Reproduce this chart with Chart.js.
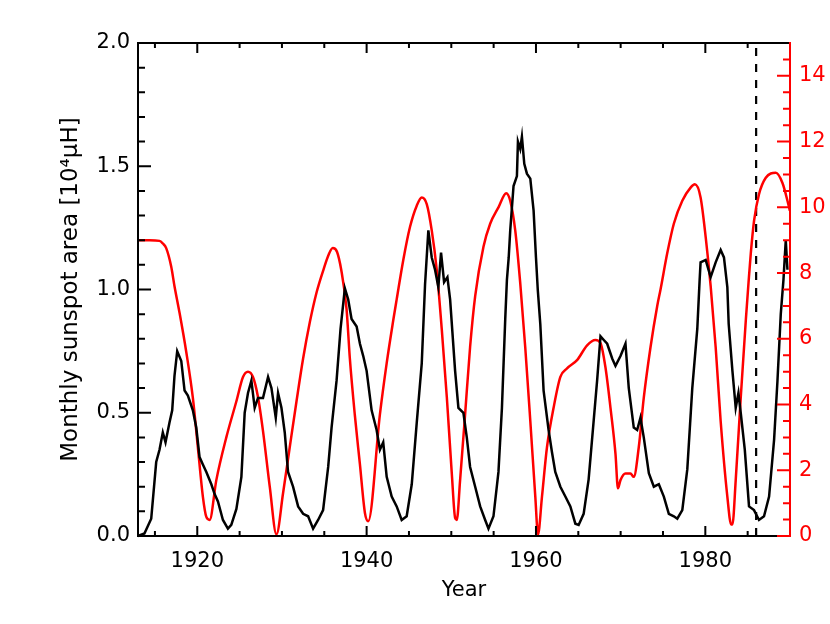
<!DOCTYPE html>
<html><head><meta charset="utf-8">
<script src="https://cdn.jsdelivr.net/npm/chart.js@4.4.1/dist/chart.umd.min.js"></script>
<style>html,body{margin:0;padding:0;background:#fff;} #wrap{width:830px;height:624px;}</style>
</head><body><div id="wrap"><canvas id="c" width="830" height="624"></canvas></div>
<script>
// ---- data ----
const areaYears = [1913.0,1913.76,1914.56,1915.15,1915.54,1915.93,1916.25,1916.72,1917.04,1917.31,1917.63,1918.11,1918.5,1918.89,1919.48,1919.88,1920.27,1920.66,1921.07,1921.66,1922.05,1922.44,1923.03,1923.62,1924.02,1924.62,1925.21,1925.6,1925.99,1926.39,1926.78,1927.17,1927.76,1928.36,1928.76,1929.27,1929.54,1929.94,1930.33,1930.72,1931.31,1931.91,1932.5,1933.09,1933.68,1934.27,1934.86,1935.46,1935.86,1936.45,1936.92,1937.43,1937.82,1938.22,1938.82,1939.21,1939.6,1940.0,1940.59,1941.18,1941.57,1941.96,1942.37,1942.96,1943.55,1944.14,1944.73,1945.33,1945.92,1946.51,1946.9,1947.29,1947.69,1948.08,1948.47,1948.79,1949.15,1949.54,1949.86,1950.45,1950.84,1951.43,1951.83,1952.22,1952.82,1953.41,1954.0,1954.39,1954.98,1955.57,1955.98,1956.37,1956.57,1956.78,1956.96,1957.35,1957.75,1957.87,1958.14,1958.34,1958.62,1958.93,1959.33,1959.72,1960.0,1960.21,1960.51,1960.9,1961.49,1961.89,1962.28,1962.88,1963.47,1964.06,1964.65,1965.04,1965.63,1966.22,1966.82,1967.22,1967.62,1968.01,1968.41,1969.0,1969.39,1969.98,1970.57,1970.96,1971.55,1971.95,1972.34,1972.73,1973.33,1973.92,1974.51,1975.1,1975.69,1976.28,1976.69,1977.28,1977.87,1978.46,1979.05,1979.33,1979.44,1980.04,1980.63,1981.22,1981.81,1982.2,1982.6,1982.76,1983.2,1983.59,1983.91,1984.18,1984.66,1985.16,1985.75,1986.34,1986.93,1987.53,1988.12,1988.52,1988.91,1989.23,1989.5,1989.7];
const areaValues = [0.0,0.01,0.07,0.30,0.35,0.42,0.38,0.46,0.51,0.65,0.75,0.71,0.59,0.57,0.51,0.44,0.32,0.29,0.26,0.21,0.17,0.14,0.065,0.03,0.045,0.11,0.24,0.50,0.58,0.63,0.52,0.56,0.56,0.645,0.60,0.48,0.58,0.52,0.42,0.26,0.20,0.12,0.09,0.08,0.03,0.065,0.105,0.28,0.44,0.63,0.84,1.005,0.96,0.88,0.85,0.78,0.73,0.67,0.51,0.43,0.35,0.38,0.24,0.16,0.12,0.065,0.08,0.21,0.46,0.70,1.02,1.24,1.13,1.08,1.01,1.15,1.03,1.05,0.96,0.67,0.52,0.50,0.40,0.28,0.20,0.12,0.065,0.03,0.08,0.26,0.52,0.88,1.04,1.13,1.24,1.42,1.46,1.60,1.57,1.62,1.51,1.47,1.45,1.32,1.13,1.0,0.86,0.59,0.43,0.34,0.26,0.20,0.16,0.12,0.05,0.045,0.09,0.23,0.47,0.63,0.81,0.795,0.78,0.72,0.69,0.73,0.78,0.60,0.44,0.43,0.48,0.40,0.255,0.20,0.21,0.16,0.09,0.08,0.07,0.105,0.27,0.60,0.84,1.04,1.11,1.12,1.05,1.11,1.16,1.13,1.01,0.86,0.67,0.52,0.58,0.50,0.35,0.12,0.105,0.065,0.08,0.16,0.39,0.63,0.90,1.04,1.20,1.08];

const fluxYears = [1913.0,1914.35,1915.54,1915.93,1916.33,1916.92,1917.31,1917.9,1918.7,1919.48,1920.07,1920.66,1921.07,1921.46,1922.25,1923.43,1924.62,1925.4,1925.99,1926.58,1927.17,1927.76,1928.56,1929.35,1930.13,1930.92,1931.72,1932.5,1933.29,1934.08,1934.9,1935.5,1936.0,1936.5,1937.0,1937.63,1938.02,1938.6,1939.2,1939.8,1940.19,1941.57,1942.37,1943.15,1943.55,1944.33,1945.12,1945.92,1946.51,1947.1,1947.69,1948.28,1948.88,1949.47,1950.06,1950.45,1950.65,1951.04,1951.63,1952.22,1952.82,1953.8,1954.59,1955.57,1956.49,1956.96,1957.55,1958.14,1958.73,1959.33,1959.92,1960.24,1960.71,1961.3,1962.08,1962.88,1963.67,1964.85,1966.04,1967.02,1967.62,1968.2,1968.8,1969.39,1969.68,1969.98,1970.57,1971.16,1971.55,1972.14,1972.73,1973.53,1974.32,1974.71,1975.5,1976.28,1977.28,1978.26,1978.77,1979.44,1980.04,1980.63,1981.22,1981.81,1982.6,1983.05,1983.2,1983.59,1984.18,1984.79,1985.1,1985.37,1985.76,1986.34,1987.14,1988.32,1989.11,1989.7,1989.98];
const fluxValues = [9.0,9.0,8.98,8.9,8.76,8.2,7.6,6.8,5.6,4.2,2.7,1.2,0.58,0.49,1.7,3.0,4.1,4.84,5.0,4.84,4.23,3.2,1.5,0.05,1.3,2.7,4.1,5.4,6.5,7.4,8.1,8.55,8.76,8.65,8.1,6.9,5.4,3.7,2.2,0.7,0.45,3.7,5.26,6.57,7.2,8.4,9.4,10.05,10.3,10.1,9.3,8.1,6.27,4.23,1.9,0.55,0.49,1.7,3.7,5.75,7.3,8.8,9.5,10.0,10.43,10.2,9.3,7.7,5.75,3.5,1.2,0.05,1.2,2.7,3.9,4.84,5.1,5.35,5.8,5.96,5.87,5.14,3.9,2.5,1.45,1.7,1.9,1.9,1.8,2.7,4.2,5.75,7.0,7.5,8.6,9.5,10.2,10.6,10.7,10.3,9.1,7.6,5.75,3.5,1.2,0.35,0.35,1.7,4.2,6.6,7.7,8.6,9.6,10.4,10.9,11.05,10.74,10.2,9.9];

const markerYear = 1986;
const xRange = [1913, 1990];
const leftRange = [0, 2];
const rightRange = [0, 15];
const xLabelTicks = [1920, 1940, 1960, 1980];
const xMinorStep = 5;
const leftLabelTicks = [0, 0.5, 1.0, 1.5, 2.0];
const leftMinorStep = 0.1;
const rightLabelTicks = [0, 2, 4, 6, 8, 10, 12, 14];
const rightMinorStep = 0.5;

const FONT = "'DejaVu Sans', sans-serif";
const RED = '#ff0000';

function pts(xs, ys){ return xs.map((t,i)=>({x:t, y:ys[i]})); }
function steps(lo, hi, st){ const out=[]; const n=Math.round((hi-lo)/st); for(let i=0;i<=n;i++) out.push(+(lo+i*st).toFixed(6)); return out; }

const framePlugin = {
  id: 'frame',
  afterDraw(chart){
    const {ctx, chartArea:a, scales} = chart;
    const x = scales.x, y = scales.y, y2 = scales.y2;
    ctx.save();
    ctx.lineWidth = 2;
    ctx.lineCap = 'butt';
    ctx.strokeStyle = '#000';
    ctx.beginPath();
    ctx.moveTo(a.left, a.bottom + 1); ctx.lineTo(a.left, a.top); ctx.lineTo(a.right, a.top);
    ctx.moveTo(a.left - 1, a.bottom); ctx.lineTo(a.right - 13, a.bottom);
    const xMinor = steps(Math.ceil(xRange[0]/xMinorStep)*xMinorStep, xRange[1], xMinorStep);
    xMinor.forEach(v => {
      const px = x.getPixelForValue(v);
      if (px <= a.left + 1 || px >= a.right - 1) return;
      const len = xLabelTicks.includes(v) ? 10 : 5;
      ctx.moveTo(px, a.bottom); ctx.lineTo(px, a.bottom - len);
      ctx.moveTo(px, a.top); ctx.lineTo(px, a.top + len);
    });
    steps(leftRange[0], leftRange[1], leftMinorStep).forEach(v => {
      const py = y.getPixelForValue(v);
      if (py >= a.bottom - 1 || py <= a.top + 1) return;
      const major = leftLabelTicks.some(t => Math.abs(t - v) < 1e-6);
      ctx.moveTo(a.left, py); ctx.lineTo(a.left + (major ? 13 : 7), py);
    });
    ctx.stroke();
    ctx.strokeStyle = RED;
    ctx.beginPath();
    ctx.moveTo(a.right, a.top - 1); ctx.lineTo(a.right, a.bottom + 1);
    ctx.moveTo(a.right - 13, a.bottom); ctx.lineTo(a.right, a.bottom);
    steps(rightRange[0], rightRange[1], rightMinorStep).forEach(v => {
      const py = y2.getPixelForValue(v);
      if (py <= a.top + 1) return;
      const major = rightLabelTicks.includes(v);
      ctx.moveTo(a.right, py); ctx.lineTo(a.right - (major ? 13 : 7), py);
    });
    ctx.stroke();
    ctx.restore();
  }
};

new Chart(document.getElementById('c'), {
  type: 'line',
  data: {
    datasets: [
      { label: 'Monthly sunspot area', data: pts(areaYears, areaValues), yAxisID: 'y',
        borderColor: '#000', borderWidth: 2.5, pointRadius: 0, tension: 0, fill: false, clip: 4 },
      { label: 'Model', data: pts(fluxYears, fluxValues), yAxisID: 'y2',
        borderColor: RED, borderWidth: 2.5, pointRadius: 0, cubicInterpolationMode: 'monotone', fill: false, clip: 4 },
      { label: 'marker', data: [{x: markerYear, y: leftRange[0]}, {x: markerYear, y: leftRange[1]}], yAxisID: 'y',
        borderColor: '#000', borderWidth: 2.2, borderDash: [8, 8], pointRadius: 0, fill: false }
    ]
  },
  options: {
    responsive: false, animation: false, devicePixelRatio: 1,
    layout: { padding: { top: 43, left: 0, right: 0, bottom: 0 } },
    plugins: { legend: { display: false }, tooltip: { enabled: false } },
    scales: {
      x: {
        type: 'linear', position: 'bottom', min: xRange[0], max: xRange[1],
        grid: { display: false, drawTicks: false }, border: { display: false },
        afterBuildTicks: s => { s.ticks = xLabelTicks.map(v => ({ value: v })); },
        afterFit: s => { s.height = 88; },
        ticks: { color: '#000', font: { family: FONT, size: 21 }, padding: 13, maxRotation: 0, autoSkip: false,
                 callback: v => String(v) },
        title: { display: true, text: 'Year', color: '#000', font: { family: FONT, size: 21 }, padding: { top: 0, bottom: 21 } }
      },
      y: {
        type: 'linear', position: 'left', min: leftRange[0], max: leftRange[1],
        grid: { display: false, drawTicks: false }, border: { display: false },
        afterBuildTicks: s => { s.ticks = leftLabelTicks.map(v => ({ value: v })); },
        afterFit: s => { s.width = 138; },
        ticks: { color: '#000', font: { family: FONT, size: 21 }, padding: 8, callback: v => Number(v).toFixed(1) },
        title: { display: true, text: 'Monthly sunspot area [10⁴μH]', color: '#000', font: { family: FONT, size: 23 }, padding: { top: 57, bottom: 0 } }
      },
      y2: {
        type: 'linear', position: 'right', min: rightRange[0], max: rightRange[1],
        grid: { display: false, drawTicks: false }, border: { display: false },
        afterBuildTicks: s => { s.ticks = rightLabelTicks.map(v => ({ value: v })); },
        afterFit: s => { s.width = 40; },
        ticks: { color: RED, font: { family: FONT, size: 21 }, padding: 9, callback: v => String(v) }
      }
    }
  },
  plugins: [framePlugin]
});
</script>
</body></html>
